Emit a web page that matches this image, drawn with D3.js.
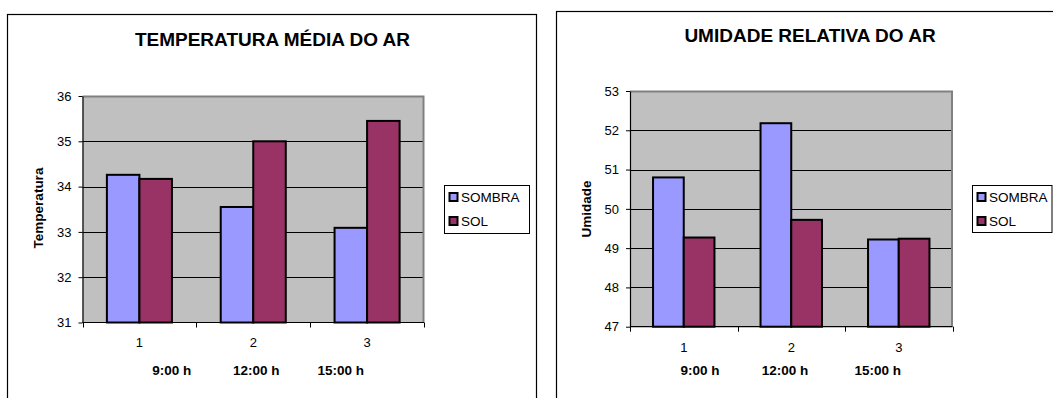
<!DOCTYPE html>
<html>
<head>
<meta charset="utf-8">
<script src="https://cdn.jsdelivr.net/npm/d3@7"></script>
<style>
  html, body { margin: 0; padding: 0; background: #fff; }
  svg { display: block; font-family: "Liberation Sans", Arial, sans-serif; }
</style>
</head>
<body>
<svg id="chart" width="1053" height="398"></svg>
<script>
// ---- data ----
const categories = ["1", "2", "3"];
const timeLabels = ["9:00 h", "12:00 h", "15:00 h"];
const seriesNames = ["SOMBRA", "SOL"];
const seriesColors = ["#9999FF", "#993366"];

const tempSombra = [34.26, 33.55, 33.09];
const tempSol = [34.17, 35.0, 35.45];
const tempTicks = [31, 32, 33, 34, 35, 36];

const umidSombra = [50.8, 52.18, 49.22];
const umidSol = [49.27, 49.72, 49.24];
const umidTicks = [47, 48, 49, 50, 51, 52, 53];

const svg = d3.select("#chart");

function drawChart(cfg) {
  const g = svg.append("g");
  // outer frame
  g.append("rect")
    .attr("x", cfg.frame[0]).attr("y", cfg.frame[1])
    .attr("width", cfg.frame[2]).attr("height", cfg.frame[3])
    .attr("fill", "#fff").attr("stroke", "#000").attr("stroke-width", 1.2);

  const x = d3.scaleBand().domain(categories).range([cfg.left, cfg.right]).padding(0);
  const xs = d3.scaleBand().domain(seriesNames).range([0, x.bandwidth()])
    .paddingInner(0).paddingOuter(0.75);
  const y = d3.scaleLinear().domain([cfg.ticks[0], cfg.ticks[cfg.ticks.length - 1]])
    .range([cfg.bottom, cfg.top]);

  // plot background
  g.append("rect")
    .attr("x", cfg.left).attr("y", cfg.top)
    .attr("width", cfg.right - cfg.left).attr("height", cfg.bottom - cfg.top)
    .attr("fill", "#C0C0C0");

  // gridlines
  g.selectAll(".grid").data(cfg.ticks.slice(1, -1)).enter().append("line")
    .attr("x1", cfg.left).attr("x2", cfg.right)
    .attr("y1", d => Math.round(y(d)) + 0.5).attr("y2", d => Math.round(y(d)) + 0.5)
    .attr("stroke", "#000").attr("stroke-width", 1);

  // grey border top & right
  g.append("path")
    .attr("d", `M${cfg.left},${cfg.top + 0.5}H${cfg.right - 0.5}V${cfg.bottom}`)
    .attr("fill", "none").attr("stroke", "#808080").attr("stroke-width", 2);

  // bars
  const rows = categories.map((c, i) => ({ c, vals: [cfg.s1[i], cfg.s2[i]] }));
  const grp = g.selectAll(".grp").data(rows).enter().append("g")
    .attr("transform", d => `translate(${x(d.c)},0)`);
  grp.selectAll("rect").data(d => d.vals.map((v, k) => ({ v, k })))
    .enter().append("rect")
    .attr("x", d => xs(seriesNames[d.k]))
    .attr("y", d => y(d.v))
    .attr("width", xs.bandwidth())
    .attr("height", d => cfg.bottom - y(d.v))
    .attr("fill", d => seriesColors[d.k])
    .attr("stroke", "#000").attr("stroke-width", 2);

  // y axis
  const yAxis = d3.axisLeft(y).tickValues(cfg.ticks).tickSize(4).tickSizeOuter(0).tickPadding(7)
    .tickFormat(d3.format("d"));
  const ya = g.append("g").attr("transform", `translate(${cfg.left},0)`).call(yAxis);
  ya.select(".domain").attr("stroke", "#000").attr("stroke-width", 1.2);
  ya.selectAll(".tick line").attr("stroke", "#000");
  ya.selectAll("text").attr("font-size", 13).attr("fill", "#000")
    .attr("font-family", "Liberation Sans, Arial, sans-serif");

  // x axis: ticks at category boundaries
  const xa = g.append("g");
  xa.append("line").attr("x1", cfg.left).attr("x2", cfg.right)
    .attr("y1", cfg.bottom).attr("y2", cfg.bottom).attr("stroke", "#000").attr("stroke-width", 1.2);
  const bounds = categories.map(c => x(c)).concat([x(categories[categories.length - 1]) + x.bandwidth()]);
  xa.selectAll(".bt").data(bounds).enter().append("line")
    .attr("x1", d => Math.round(d) + 0.5).attr("x2", d => Math.round(d) + 0.5)
    .attr("y1", cfg.bottom).attr("y2", cfg.bottom + 5).attr("stroke", "#000");
  xa.selectAll(".cl").data(categories).enter().append("text")
    .attr("x", d => x(d) + x.bandwidth() / 2)
    .attr("y", cfg.catY).attr("dy", "0.35em")
    .attr("text-anchor", "middle").attr("font-size", 13).text(d => d);

  // x axis title pieces
  g.selectAll(".tl").data(timeLabels).enter().append("text")
    .attr("x", (d, i) => cfg.timeX[i]).attr("y", cfg.timeY).attr("dy", "0.35em")
    .attr("text-anchor", "middle").attr("font-size", 13.5).attr("font-weight", "bold")
    .text(d => d);

  // y label
  g.append("text")
    .attr("transform", `translate(${cfg.yLabel[0]},${cfg.yLabel[1]}) rotate(-90)`)
    .attr("dy", "0.35em").attr("text-anchor", "middle")
    .attr("font-size", 13.5).attr("font-weight", "bold").text(cfg.yTitle);

  // title
  g.append("text").attr("x", cfg.titleX).attr("y", cfg.titleY).attr("dy", "0.35em")
    .attr("text-anchor", "middle").attr("font-size", 19).attr("font-weight", "bold")
    .text(cfg.title);

  // legend
  const L = cfg.legend;
  g.append("rect").attr("x", L.x + 0.5).attr("y", L.y + 0.5).attr("width", L.w).attr("height", L.h)
    .attr("fill", "#fff").attr("stroke", "#000").attr("stroke-width", 1);
  const le = g.selectAll(".le").data(seriesNames).enter().append("g")
    .attr("transform", (d, i) => `translate(${L.x + 5},${L.y + 12 + i * 24})`);
  le.append("rect").attr("x", 0.5).attr("y", -4).attr("width", 8).attr("height", 8)
    .attr("fill", (d, i) => seriesColors[i]).attr("stroke", "#000").attr("stroke-width", 2);
  le.append("text").attr("x", 12).attr("y", 0).attr("dy", "0.35em")
    .attr("font-size", 13.5).text(d => d);
}

drawChart({
  frame: [7.5, 14.5, 529, 400],
  left: 82.5, right: 424, top: 96, bottom: 322.5,
  ticks: tempTicks, s1: tempSombra, s2: tempSol,
  catY: 342.5, timeY: 370, timeX: [171.7, 256.2, 340.7],
  yLabel: [38.5, 208], yTitle: "Temperatura",
  title: "TEMPERATURA MÉDIA DO AR", titleX: 272.5, titleY: 39,
  legend: { x: 444, y: 185, w: 85, h: 48 }
});

drawChart({
  frame: [556.5, 11.5, 520, 400],
  left: 630, right: 952.5, top: 91, bottom: 326.7,
  ticks: umidTicks, s1: umidSombra, s2: umidSol,
  catY: 347, timeY: 370, timeX: [700, 785, 877.7],
  yLabel: [586.7, 209], yTitle: "Umidade",
  title: "UMIDADE RELATIVA DO AR", titleX: 810, titleY: 35,
  legend: { x: 972, y: 185, w: 79.5, h: 47 }
});
</script>
</body>
</html>
